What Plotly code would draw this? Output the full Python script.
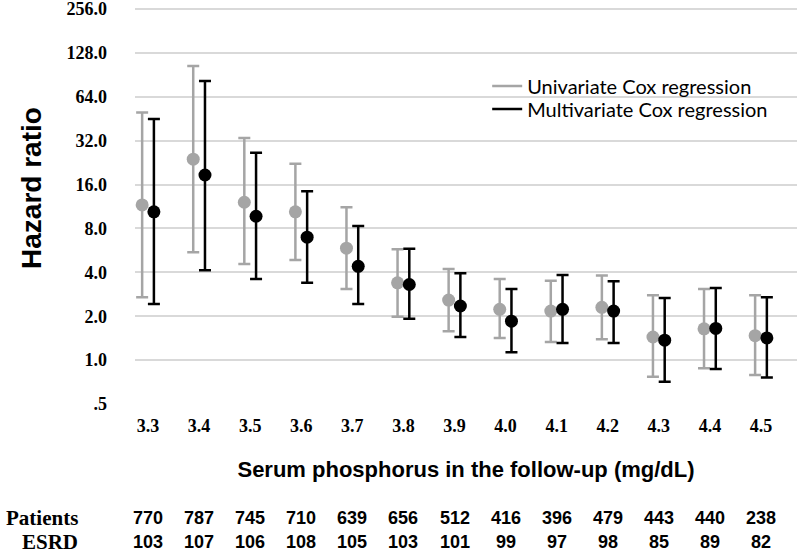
import math
import plotly.graph_objects as go

# Serum phosphorus categories (mg/dL)
phosphorus = [3.3, 3.4, 3.5, 3.6, 3.7, 3.8, 3.9, 4.0, 4.1, 4.2, 4.3, 4.4, 4.5]
phosphorus_labels = ['3.3', '3.4', '3.5', '3.6', '3.7', '3.8', '3.9', '4.0', '4.1', '4.2', '4.3', '4.4', '4.5']

# Univariate Cox regression: HR with 95% CI
uni_hr = [11.6, 23.9, 12.1, 10.4, 5.86, 3.39, 2.58, 2.23, 2.17, 2.30, 1.44, 1.64, 1.47]
uni_lo = [2.70, 5.50, 4.56, 4.86, 3.07, 1.98, 1.58, 1.42, 1.33, 1.39, 0.77, 0.88, 0.79]
uni_hi = [50.0, 104.0, 33.4, 22.2, 11.2, 5.77, 4.22, 3.60, 3.50, 3.80, 2.79, 3.07, 2.79]

# Multivariate Cox regression: HR with 95% CI
multi_hr = [10.4, 18.6, 9.7, 6.97, 4.40, 3.30, 2.35, 1.85, 2.23, 2.17, 1.37, 1.65, 1.42]
multi_lo = [2.43, 4.14, 3.60, 3.39, 2.43, 1.92, 1.44, 1.13, 1.31, 1.31, 0.71, 0.87, 0.76]
multi_hi = [45.0, 82.0, 26.4, 14.4, 8.30, 5.80, 3.95, 3.07, 3.84, 3.47, 2.67, 3.12, 2.70]

# numbers at risk below the chart
patients = [770, 787, 745, 710, 639, 656, 512, 416, 396, 479, 443, 440, 238]
esrd = [103, 107, 106, 108, 105, 103, 101, 99, 97, 98, 85, 89, 82]

y_ticks = [0.5, 1, 2, 4, 8, 16, 32, 64, 128, 256]
y_tick_text = ['.5', '1.0', '2.0', '4.0', '8.0', '16.0', '32.0', '64.0', '128.0', '256.0']

GRAY = '#a5a5a5'
BLACK = '#000000'
DODGE = 0.0115  # side-by-side shift of the two estimates


def ci_trace(name, hr, lo, hi, color, shift):
    """Point estimate with asymmetric confidence interval."""
    return go.Scatter(
        x=[p + shift for p in phosphorus], y=hr, name=name, mode='markers', showlegend=False,
        marker=dict(color=color, size=13, symbol='circle'),
        error_y=dict(type='data', symmetric=False,
                     array=[h - m for h, m in zip(hi, hr)],
                     arrayminus=[m - l for m, l in zip(hr, lo)],
                     color=color, thickness=2.5, width=6),
    )


fig = go.Figure()
fig.add_trace(ci_trace('Univariate Cox regression', uni_hr, uni_lo, uni_hi, GRAY, -DODGE))
fig.add_trace(ci_trace('Multivariate Cox regression', multi_hr, multi_lo, multi_hi, BLACK, DODGE))

# legend entries drawn as short lines, one legend box per row
for name, color, leg in [('Univariate Cox regression', GRAY, 'legend'),
                         ('Multivariate Cox regression', BLACK, 'legend2')]:
    fig.add_trace(go.Scatter(x=[None], y=[None], mode='lines', name=name, legend=leg,
                             line=dict(color=color, width=2.5)))

# numbers table under the x axis
ROW_Y = [-0.2857, -0.3459]
num_font = dict(family='Liberation Sans, Arial', size=18, color='black', weight='bold')
for xv, p, e in zip(phosphorus, patients, esrd):
    for val, yy in zip([p, e], ROW_Y):
        fig.add_annotation(x=xv, xref='x', y=yy, yref='paper', text=str(val), showarrow=False,
                           font=num_font, yanchor='middle')

for label, yy in zip(['Patients', 'ESRD'], ROW_Y):
    fig.add_annotation(x=-0.0831, xref='paper', xanchor='right', y=yy, yref='paper', text=label,
                       showarrow=False, yanchor='middle',
                       font=dict(family='Liberation Serif, Times New Roman', size=21,
                                 color='black', weight='bold'))

# y axis title
fig.add_annotation(x=-0.1556, xref='paper', y=0.5414, yref='paper', text='Hazard ratio',
                   textangle=-90, showarrow=False, xanchor='center', yanchor='middle',
                   font=dict(family='Liberation Sans, Arial', size=28, color='black', weight='bold'))

legend_style = dict(x=0.532, xanchor='left', yanchor='top', bgcolor='rgba(0,0,0,0)',
                    font=dict(family='Lato, Open Sans', size=20, color='black'), itemwidth=30)

fig.update_layout(
    width=799, height=553,
    margin=dict(l=135, r=2, t=5, b=149),
    paper_bgcolor='white', plot_bgcolor='white',
    showlegend=True,
    legend=dict(y=0.8459, **legend_style),
    legend2=dict(y=0.7882, **legend_style),
    xaxis=dict(
        range=[3.2745, 4.5705], tickvals=phosphorus, ticktext=phosphorus_labels, automargin=False,
        showgrid=False, zeroline=False, showline=False, ticks='', ticklabelstandoff=9,
        tickfont=dict(family='Liberation Serif, Times New Roman', size=18, color='black', weight='bold'),
        title=dict(text='Serum phosphorus in the follow-up (mg/dL)', standoff=26,
                   font=dict(family='Liberation Sans, Arial', size=22, color='black', weight='bold')),
    ),
    yaxis=dict(
        type='log', range=[math.log10(0.5), 2.4357], tickvals=y_ticks, ticktext=y_tick_text,
        automargin=False, ticklabeloverflow='allow',
        showgrid=True, gridcolor='#d9d9d9', gridwidth=1.5, zeroline=False, showline=False,
        ticks='', ticklabelstandoff=27,
        tickfont=dict(family='Liberation Serif, Times New Roman', size=18, color='black', weight='bold'),
    ),
)

# the page body has a default margin; drop it so the figure sits at the window corner
fig.write_html('out.html', config={'displayModeBar': False},
               post_script="document.body.style.margin='0';")
